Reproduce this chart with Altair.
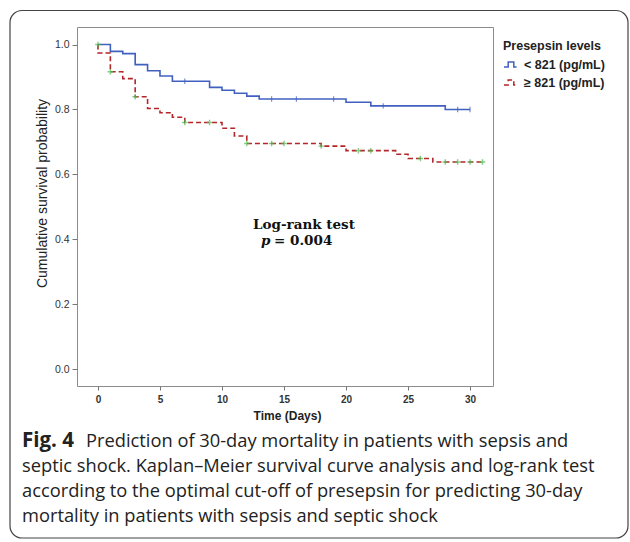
import altair as alt
import pandas as pd

# ---------------- data ----------------
low_label = "< 821 (pg/mL)"
high_label = "≥ 821 (pg/mL)"

# Kaplan-Meier steps: event time -> survival after the event
low_times = [0, 1, 2, 3, 4, 5, 6, 9, 10, 11, 12, 13, 20, 22, 28]
low_surv = [1.0, 0.979, 0.972, 0.938, 0.919, 0.903, 0.887, 0.868, 0.859, 0.850, 0.841, 0.832, 0.822, 0.811, 0.800]
low_end = 30

high_times = [0, 0, 1, 2, 3, 4, 5, 6, 7, 10, 11, 12, 18, 20, 24, 25, 27]
high_surv = [1.0, 0.974, 0.916, 0.895, 0.839, 0.803, 0.790, 0.776, 0.760, 0.742, 0.718, 0.695, 0.687, 0.673, 0.662, 0.649, 0.638]
high_end = 31

# censored observations
low_cens_t = [7, 14, 16, 19, 23, 29, 30]
low_cens_s = [0.887, 0.832, 0.832, 0.832, 0.811, 0.800, 0.800]
high_cens_t = [0, 1, 3, 7, 9, 12, 14, 15, 18, 21, 22, 26, 28, 29, 30, 31]
high_cens_s = [1.0, 0.916, 0.839, 0.760, 0.760, 0.695, 0.695, 0.695, 0.687, 0.673, 0.673, 0.649, 0.638, 0.638, 0.638, 0.638]

x_ticks = [0, 5, 10, 15, 20, 25, 30]
y_ticks = [0.0, 0.2, 0.4, 0.6, 0.8, 1.0]

caption_bold = "Fig. 4"
caption_lines = [
    "Prediction of 30-day mortality in patients with sepsis and",
    "septic shock. Kaplan\u2013Meier survival curve analysis and log-rank test",
    "according to the optimal cut-off of presepsin for predicting 30-day",
    "mortality in patients with sepsis and septic shock",
]

# ---------------- tables ----------------
rows = []
for g, ts, ss, end in [(low_label, low_times, low_surv, low_end),
                       (high_label, high_times, high_surv, high_end)]:
    i = 0
    for t, s in zip(ts, ss):
        rows.append({"group": g, "t": t, "s": s, "idx": i})
        i += 1
    rows.append({"group": g, "t": end, "s": ss[-1], "idx": i})
lines = pd.DataFrame(rows)

cens_low = pd.DataFrame({"t": low_cens_t, "s": low_cens_s})
cens_high = pd.DataFrame({"t": high_cens_t, "s": high_cens_s})

BLUE = "#4060c0"
RED = "#b3262a"
GREEN = "#4cbb4c"
AXIS_FONT = "Liberation Sans"

xscale = alt.Scale(domain=[-1.69, 31.85], nice=False, zero=False)
yscale = alt.Scale(domain=[-0.052, 1.054], nice=False, zero=False)

x_enc = alt.X("t:Q", scale=xscale, axis=alt.Axis(
    values=x_ticks, format="d", title="Time (Days)", grid=False, domain=False,
    tickSize=4, tickColor="#777", labelPadding=4, labelFont=AXIS_FONT,
    labelFontSize=10, labelFontWeight="bold", labelColor="#333",
    titleFont=AXIS_FONT, titleFontSize=12, titleFontWeight="bold", titleColor="#222",
    titleX=210, titleY=29, titleBaseline="middle", titleAlign="center"))
y_enc = alt.Y("s:Q", scale=yscale, axis=alt.Axis(
    values=y_ticks, format=".1f", title="Cumulative survival probability", grid=False,
    domain=False, tickSize=5, tickColor="#777", labelPadding=3, labelFont=AXIS_FONT,
    labelFontSize=10.5, labelColor="#333",
    titleFont=AXIS_FONT, titleFontSize=14, titleFontWeight="normal", titleColor="#222",
    titleX=-35, titleY=166, titleAngle=-90, titleBaseline="middle", titleAlign="center"))

step_path = "M-1,0.35 L-0.4,0.35 L-0.4,-0.35 L0.4,-0.35 L0.4,0.35 L0.8,0.35"
legend_spec = alt.Legend(
    title="Presepsin levels", orient="none", legendX=426, legendY=13,
    symbolType=step_path, symbolSize=196, symbolStrokeWidth=1.5,
    symbolFillColor="transparent", titleFont=AXIS_FONT, titleFontSize=12.5,
    titleFontWeight="bold", titleColor="#222", labelFont=AXIS_FONT,
    labelFontSize=12.5, labelFontWeight="bold", labelColor="#222",
    titlePadding=4, rowPadding=3, labelOffset=5, padding=0)

domain = [low_label, high_label]
curves = alt.Chart(lines).mark_line(interpolate="step-after", strokeWidth=1.6).encode(
    x=x_enc, y=y_enc,
    order="idx:Q",
    color=alt.Color("group:N", scale=alt.Scale(domain=domain, range=[BLUE, RED]), legend=legend_spec),
    strokeDash=alt.StrokeDash("group:N", scale=alt.Scale(domain=domain, range=[[1, 0], [5, 3]]), legend=legend_spec),
)

low_marks = alt.Chart(cens_low).mark_point(
    shape="M0,-1L0,1", size=30, strokeWidth=1.2, color=BLUE, filled=False
).encode(x=x_enc, y=y_enc)

high_marks = alt.Chart(cens_high).mark_point(
    shape="M-1,0L1,0M0,-1L0,1", size=30, strokeWidth=1.4, color=GREEN, filled=False
).encode(x=x_enc, y=y_enc)

one = pd.DataFrame({"a": [0]})

frame = alt.Chart(one).mark_rect(
    fill=None, stroke="#444", strokeWidth=1.2, cornerRadius=12
).encode(x=alt.value(-67), x2=alt.value(551), y=alt.value(-16.5), y2=alt.value(511))

SERIF = "DejaVu Serif"
logrank = alt.Chart(one).mark_text(
    text="Log-rank test", font=SERIF, fontSize=13.5, fontWeight="bold",
    align="center", baseline="alphabetic", color="#111"
).encode(x=alt.value(227), y=alt.value(202))
p_it = alt.Chart(one).mark_text(
    text="p", font=SERIF, fontSize=13.5, fontWeight="bold", fontStyle="italic",
    align="left", baseline="alphabetic", color="#111"
).encode(x=alt.value(184), y=alt.value(218))
p_val = alt.Chart(one).mark_text(
    text="= 0.004", font=SERIF, fontSize=13.5, fontWeight="bold",
    align="left", baseline="alphabetic", color="#111"
).encode(x=alt.value(197), y=alt.value(218))

CAP_FONT = "Open Sans"
cap_layers = [
    alt.Chart(one).mark_text(
        text=caption_bold, font=CAP_FONT, fontSize=20.5, fontWeight="bold",
        align="left", baseline="alphabetic", color="#222"
    ).encode(x=alt.value(-55), y=alt.value(420))
]
cap_x = [9, -55, -55, -55]
cap_y = [420, 445, 470, 495]
for txt, cx, cy in zip(caption_lines, cap_x, cap_y):
    cap_layers.append(alt.Chart(one).mark_text(
        text=txt, font=CAP_FONT, fontSize=18.3, align="left",
        baseline="alphabetic", color="#222"
    ).encode(x=alt.value(cx), y=alt.value(cy)))

chart = alt.layer(
    frame, curves, low_marks, high_marks, logrank, p_it, p_val, *cap_layers
).properties(
    width=416, height=359,
    autosize=alt.AutoSizeParams(type="none"),
    padding={"left": 77, "top": 27, "right": 137, "bottom": 156},
    background="white",
).configure_view(stroke="#8c8c8c", strokeWidth=1)

chart.save("out.html", embed_options={"renderer": "svg", "actions": False})
